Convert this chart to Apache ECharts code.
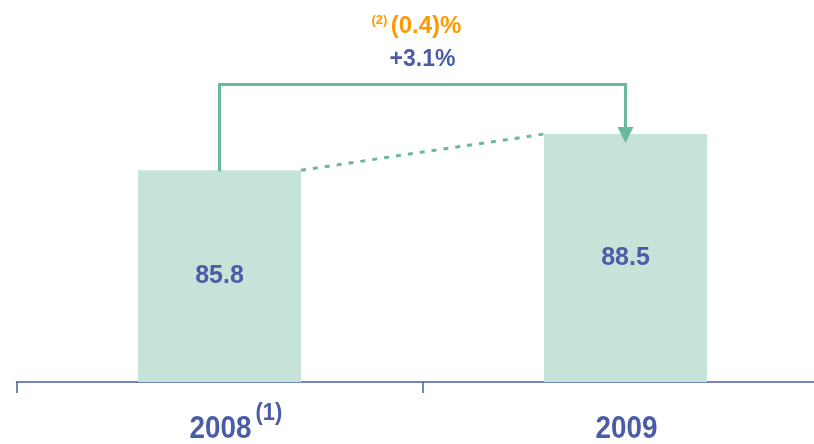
<!DOCTYPE html>
<html>
<head>
<meta charset="utf-8">
<title>Revenue 2008–2009</title>
<script src="https://cdn.jsdelivr.net/npm/echarts@6/dist/echarts.min.js"></script>
<style>
  html, body { margin: 0; padding: 0; background: #ffffff; }
  #chart { width: 814px; height: 444px; }
</style>
</head>
<body>
<div id="chart"></div>
<script>
// Yearly values
const categories = ['2008', '2009'];
const revenue = [85.8, 88.5];
const categoryNotes = ['(1)', ''];

// Change annotation over the bracket
const bracketLevel = 92.2;
const organicChange = '(0.4)%';
const organicNote = '(2)';
const reportedChange = '+3.1%';

const Y_MIN = 70;
const Y_MAX = 98.5;

const BLUE = '#4A5CA6';
const MINT = '#C6E3DA';
const TEAL = '#6BB8A0';
const ORANGE = '#FF9A00';
const BAR_WIDTH = 163;
const FONT = "'Liberation Sans', Arial, sans-serif";

const chart = echarts.init(document.getElementById('chart'), null, { renderer: 'canvas' });

chart.setOption({
  animation: false,
  backgroundColor: '#ffffff',
  grid: { left: 16.5, top: 0, width: 812, bottom: 62, containLabel: false, outerBoundsMode: 'none' },
  xAxis: {
    type: 'category',
    data: categories,
    boundaryGap: true,
    axisLine: { lineStyle: { color: BLUE, width: 1.5 } },
    axisTick: { show: true, length: 11, alignWithLabel: false, lineStyle: { color: BLUE, width: 1.5 } },
    // year labels are drawn condensed by the overlay series below
    axisLabel: { show: false }
  },
  yAxis: {
    type: 'value',
    min: Y_MIN,
    max: Y_MAX,
    show: false,
    splitLine: { show: false }
  },
  series: [
    {
      type: 'bar',
      data: revenue,
      barWidth: BAR_WIDTH,
      itemStyle: { color: MINT },
      label: {
        show: true,
        position: 'inside',
        color: BLUE,
        fontFamily: FONT,
        fontWeight: 'bold',
        fontSize: 25,
        formatter: function (p) { return p.value.toFixed(1); }
      },
      z: 2
    },
    {
      // bracket arrow, dashed connector, change labels and condensed year labels
      type: 'custom',
      data: [0],
      z: 5,
      silent: true,
      renderItem: function (params, api) {
        const a = api.coord([0, revenue[0]]);
        const b = api.coord([1, revenue[1]]);
        const top = api.coord([0, bracketLevel])[1];
        const half = BAR_WIDTH / 2;
        const tipY = b[1] + 9;
        const baseY = tipY - 16;
        const midX = (a[0] + b[0]) / 2;

        const children = [
          {
            type: 'polyline',
            shape: { points: [[a[0] + half, a[1]], [b[0] - half, b[1]]] },
            style: { stroke: TEAL, lineWidth: 3, fill: null, lineDash: [5, 7] }
          },
          {
            type: 'polyline',
            shape: { points: [[a[0], a[1] + 1], [a[0], top], [b[0], top], [b[0], baseY + 1]] },
            style: { stroke: TEAL, lineWidth: 3, fill: null, lineJoin: 'miter' }
          },
          {
            type: 'polygon',
            shape: { points: [[b[0] - 8, baseY], [b[0] + 8, baseY], [b[0], tipY]] },
            style: { fill: TEAL }
          },
          {
            type: 'text',
            x: midX,
            y: top - 25,
            style: {
              text: reportedChange,
              fill: BLUE,
              font: 'bold 23px ' + FONT,
              align: 'center',
              verticalAlign: 'middle'
            }
          },
          {
            type: 'text',
            x: midX - 6,
            y: top - 58,
            style: {
              text: '{s|' + organicNote + '} {m|' + organicChange + '}',
              align: 'center',
              verticalAlign: 'middle',
              rich: {
                m: { fontFamily: FONT, fontWeight: 'bold', fontSize: 24, fill: ORANGE, lineHeight: 26 },
                s: { fontFamily: FONT, fontWeight: 'bold', fontSize: 13, fill: ORANGE, verticalAlign: 'top' }
              }
            }
          }
        ];

        // condensed year labels under the axis
        categories.forEach(function (cat, i) {
          const p = api.coord([i, Y_MIN]);
          children.push({
            type: 'text',
            x: p[0] + 1,
            y: p[1] + 47,
            scaleX: 0.87,
            style: {
              text: cat,
              fill: BLUE,
              font: 'bold 32px ' + FONT,
              align: 'center',
              verticalAlign: 'middle'
            }
          });
          if (categoryNotes[i]) {
            children.push({
              type: 'text',
              x: p[0] + 36,
              y: p[1] + 32,
              scaleX: 0.95,
              style: {
                text: categoryNotes[i],
                fill: BLUE,
                font: 'bold 23px ' + FONT,
                align: 'left',
                verticalAlign: 'middle'
              }
            });
          }
        });

        return { type: 'group', children: children };
      }
    }
  ]
});
</script>
</body>
</html>
